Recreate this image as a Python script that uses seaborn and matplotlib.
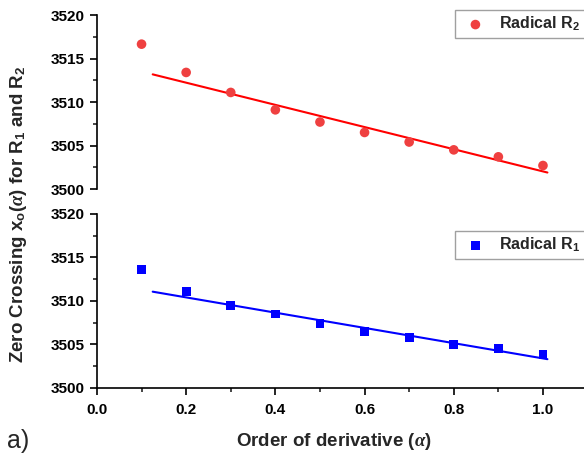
import numpy as np
import pandas as pd
import matplotlib
matplotlib.use("Agg")
import matplotlib.pyplot as plt
import seaborn as sns
from matplotlib.ticker import MultipleLocator

# Order of derivative and zero-crossing positions for the two radicals
alpha = [0.1, 0.2, 0.3, 0.4, 0.5, 0.6, 0.7, 0.8, 0.9, 1.0]
r2_values = [3516.65, 3513.4, 3511.1, 3509.1, 3507.7, 3506.5, 3505.4, 3504.5, 3503.7, 3502.7]
r1_values = [3513.6, 3511.1, 3509.5, 3508.5, 3507.4, 3506.5, 3505.8, 3505.0, 3504.5, 3503.85]

sns.set_theme(style="ticks")
plt.rcParams["font.family"] = ["Liberation Sans", "DejaVu Sans"]
plt.rcParams["font.weight"] = "bold"
plt.rcParams["mathtext.fontset"] = "custom"
plt.rcParams["mathtext.rm"] = "Liberation Sans:bold"
plt.rcParams["mathtext.bf"] = "Liberation Sans:bold"
plt.rcParams["mathtext.it"] = "Liberation Serif:italic"

df = pd.DataFrame({"alpha": alpha, "R1": r1_values, "R2": r2_values})

fig = plt.figure(figsize=(5.84, 4.55), dpi=100)
ax_top = fig.add_axes([0.166, 0.5846, 0.834, 0.3824])
ax_bot = fig.add_axes([0.166, 0.1473, 0.834, 0.3824])

x_fit = np.linspace(0.125, 1.01, 50)


def draw_panel(ax, col, marker_color, line_color, marker, size, label):
    sns.scatterplot(data=df, x="alpha", y=col, ax=ax, color=marker_color,
                    marker=marker, s=size, edgecolor="none", label=label, zorder=3)
    # linear trend of the points beyond the first order
    coef = np.polyfit(df["alpha"][1:], df[col][1:], 1)
    sns.lineplot(x=x_fit, y=np.polyval(coef, x_fit), ax=ax, color=line_color,
                 linewidth=1.5, zorder=2)
    ax.set_xlim(0, 1.092)
    ax.set_ylim(3500, 3520)
    ax.yaxis.set_major_locator(MultipleLocator(5))
    ax.yaxis.set_minor_locator(MultipleLocator(2.5))
    ax.xaxis.set_major_locator(MultipleLocator(0.2))
    ax.xaxis.set_minor_locator(MultipleLocator(0.1))
    ax.tick_params(axis="both", which="major", direction="out", length=5,
                   width=1.2, labelsize=11, colors="black", pad=4)
    ax.tick_params(axis="x", which="major", pad=6)
    ax.tick_params(axis="both", which="minor", direction="out", length=3,
                   width=1.2)
    for side in ["top", "right"]:
        ax.spines[side].set_visible(False)
    for side in ["left", "bottom"]:
        ax.spines[side].set_linewidth(1.2)
        ax.spines[side].set_color("black")
    ax.set_ylabel("")
    ax.set_xlabel("")


draw_panel(ax_top, "R2", "#EF4040", "#FF0000", "o", 48, "Radical R$_\\mathrm{2}$")
draw_panel(ax_bot, "R1", "#0000FF", "#0000FF", "s", 40, "Radical R$_\\mathrm{1}$")

ax_top.spines["bottom"].set_visible(False)
ax_top.tick_params(axis="x", which="both", bottom=False, labelbottom=False)
ax_top.set_yticks([3500, 3505, 3510, 3515, 3520])
ax_bot.set_xticks([0.0, 0.2, 0.4, 0.6, 0.8, 1.0])
ax_bot.set_xticklabels(["0.0", "0.2", "0.4", "0.6", "0.8", "1.0"])
for ax in (ax_top, ax_bot):
    for t in ax.get_xticklabels() + ax.get_yticklabels():
        t.set_fontweight("bold")

for ax, anchor in [(ax_top, (1.002, 1.029)), (ax_bot, (1.002, 0.904))]:
    leg = ax.legend(loc="upper right", bbox_to_anchor=anchor, frameon=True,
                    fancybox=False, edgecolor="#888888",
                    handletextpad=0.55, borderpad=0.3, handlelength=1.9,
                    borderaxespad=0.0,
                    prop={"weight": "bold", "size": 11.5})
    leg.get_frame().set_linewidth(1.0)

ax_bot.set_xlabel("Order of derivative ($\\alpha$)", fontsize=13.5,
                  fontweight="bold")
ax_bot.xaxis.set_label_coords(0.487, -0.245)

fig.text(0.032, 0.53, "Zero Crossing x$_\\mathrm{o}$($\\alpha$) for R$_\\mathrm{1}$ and R$_\\mathrm{2}$",
         rotation=90, ha="center", va="center", fontsize=13.5, fontweight="bold")
fig.text(0.012, 0.0154, "a)", fontsize=18, fontweight="normal", ha="left", va="baseline")

fig.savefig("out.png", dpi=100)
